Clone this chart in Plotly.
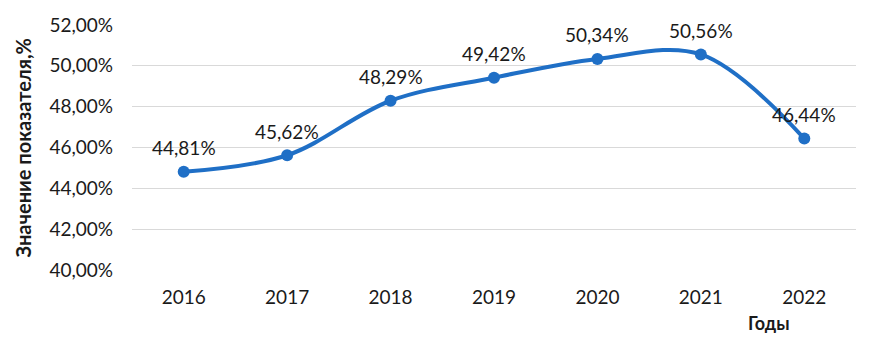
import plotly.graph_objects as go

years = ["2016", "2017", "2018", "2019", "2020", "2021", "2022"]
values = [44.81, 45.62, 48.29, 49.42, 50.34, 50.56, 46.44]
label_texts = ["44,81%", "45,62%", "48,29%", "49,42%", "50,34%", "50,56%", "46,44%"]
y_tick_vals = [40, 42, 44, 46, 48, 50, 52]
y_tick_text = ["40,00%", "42,00%", "44,00%", "46,00%", "48,00%", "50,00%", "52,00%"]

FONT = "Lato, Carlito, Calibri, sans-serif"
BLUE = "#1F6FC6"
TXT = "#1a1a1a"

# figure is drawn 8px in from the page corner (body margin), so sizes account for it
W, H = 876, 338
L, T, PW, PH = 124, 17, 724, 245

fig = go.Figure()
fig.add_trace(go.Scatter(
    x=years, y=values,
    mode="lines+markers",
    line=dict(color=BLUE, width=4, shape="spline", smoothing=1.0),
    marker=dict(color=BLUE, size=12),
    hoverinfo="skip",
))

annotations = [
    dict(x=i, y=yv, text=t, xref="x", yref="y", showarrow=False,
         xanchor="center", yanchor="middle", yshift=24,
         font=dict(family=FONT, size=19, color=TXT))
    for i, (yv, t) in enumerate(zip(values, label_texts))
]
annotations += [
    dict(text="<b>Значение показателя,%</b>", textangle=-90,
         xref="paper", yref="paper", x=(14 - L) / PW, y=0.5,
         xanchor="center", yanchor="middle", showarrow=False,
         font=dict(family=FONT, size=20, color=TXT)),
    dict(text="<b>Годы</b>", xref="paper", yref="paper",
         x=(761 - L) / PW, y=-(315 - (T + PH)) / PH,
         xanchor="center", yanchor="middle", showarrow=False,
         font=dict(family=FONT, size=18, color=TXT)),
]

fig.update_layout(
    width=W, height=H,
    margin=dict(l=L, r=W - L - PW, t=T, b=H - T - PH, autoexpand=False),
    paper_bgcolor="white", plot_bgcolor="white",
    showlegend=False,
    font=dict(family=FONT, size=19, color=TXT),
    xaxis=dict(
        type="category", range=[-0.5, 6.5], automargin=False,
        showgrid=False, showline=False, zeroline=False,
        ticks="", tickfont=dict(size=19), ticklabelstandoff=14,
    ),
    yaxis=dict(
        range=[40, 52], tickvals=y_tick_vals, ticktext=y_tick_text,
        automargin=False,
        showgrid=True, gridcolor="#D9D9D9", gridwidth=1.3,
        zeroline=False, showline=False, ticks="",
        tickfont=dict(size=19), ticklabelstandoff=18,
    ),
    annotations=annotations,
)

fig.write_html("out.html")
